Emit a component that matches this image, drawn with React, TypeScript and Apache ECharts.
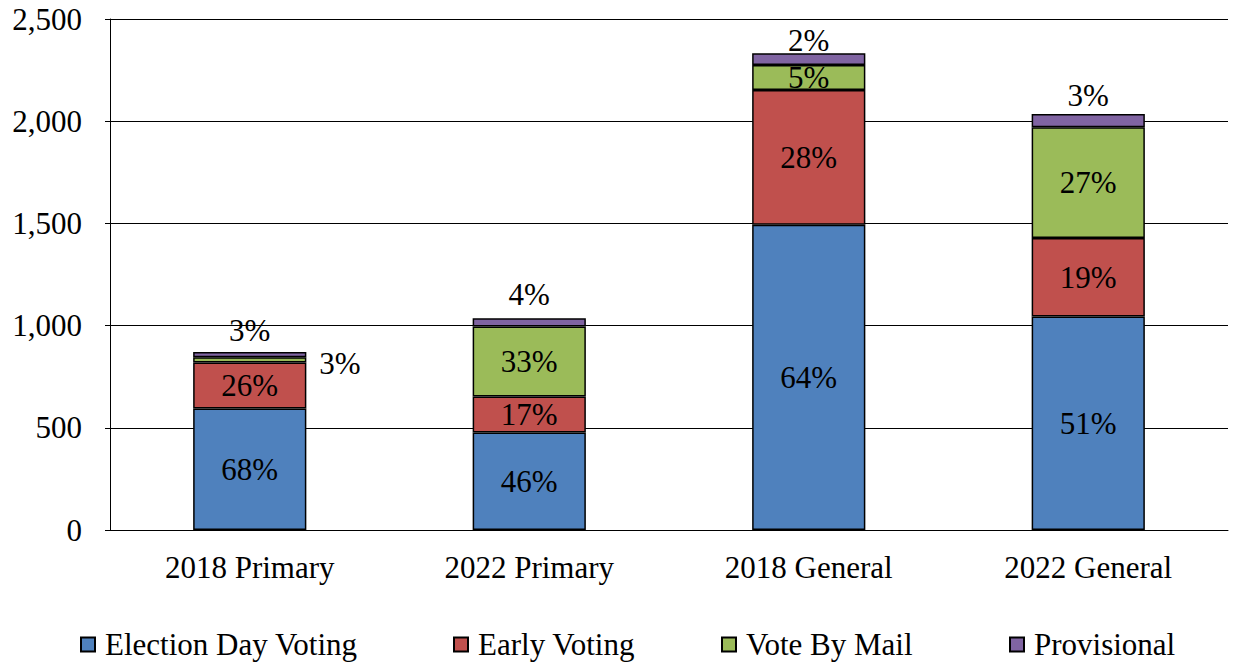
import React, { useEffect, useRef } from "react";
import * as echarts from "echarts";

const categories = ["2018 Primary", "2022 Primary", "2018 General", "2022 General"];
const seriesNames = ["Election Day Voting", "Early Voting", "Vote By Mail", "Provisional"];
const electionDay = [595, 477, 1493, 1045];
const earlyVoting = [225, 176, 660, 383];
const voteByMail = [25, 342, 122, 543];
const provisional = [26, 41, 58, 64];
const electionDayPct = ["68%", "46%", "64%", "51%"];
const earlyVotingPct = ["26%", "17%", "28%", "19%"];
const voteByMailPct = ["3%", "33%", "5%", "27%"];
const provisionalPct = ["3%", "4%", "2%", "3%"];
const yTicks = [0, 500, 1000, 1500, 2000, 2500];

const colors = ["#4F81BD", "#C0504D", "#9BBB59", "#8064A2"];
const FONT = "'Liberation Serif', 'Times New Roman', serif";
const FS = 31;

export default function App() {
  const ref = useRef<HTMLDivElement>(null);
  useEffect(() => {
    if (!ref.current) return;
    const chart = echarts.init(ref.current, undefined, { renderer: "svg" });
    const baseLabel = {
      show: true,
      position: "inside",
      color: "#000",
      fontSize: FS,
      fontFamily: FONT,
    };
    const mk = (vals: number[], pcts: string[], extra: (i: number) => any) =>
      vals.map((v, i) => ({ value: v, label: { ...baseLabel, formatter: pcts[i], ...extra(i) } }));

    const provDist = [6, 8, -3, 3];
    const option: any = {
      animation: false,
      textStyle: { fontFamily: FONT },
      grid: { left: 110, right: 5, top: 19, bottom: 132, containLabel: false },
      legend: seriesNames.map((n, i) => ({
        data: [n],
        left: [80, 453, 721, 1009][i],
        top: 629,
        itemWidth: 14,
        itemHeight: 14,
        itemGap: 0,
        icon: "rect",
        textStyle: { fontSize: FS, fontFamily: FONT, color: "#000", padding: [0, 0, 0, 5] },
        padding: 0,
      })),
      xAxis: {
        type: "category",
        data: categories,
        axisLine: { show: true, lineStyle: { color: "#000", width: 1 } },
        axisTick: { show: false },
        axisLabel: { color: "#000", fontSize: FS, fontFamily: FONT, margin: 22 },
      },
      yAxis: {
        type: "value",
        min: 0,
        max: 2500,
        interval: 500,
        axisLine: { show: true, lineStyle: { color: "#000", width: 1 } },
        axisTick: { show: true, inside: false, length: 5, lineStyle: { color: "#000" } },
        splitLine: { show: true, lineStyle: { color: "#000", width: 1 } },
        axisLabel: {
          color: "#000",
          fontSize: FS,
          fontFamily: FONT,
          margin: 28,
          formatter: (v: number) => (yTicks.includes(v) ? v.toLocaleString("en-US") : ""),
        },
      },
      series: [
        { name: seriesNames[0], data: mk(electionDay, electionDayPct, () => ({})) },
        { name: seriesNames[1], data: mk(earlyVoting, earlyVotingPct, () => ({})) },
        {
          name: seriesNames[2],
          data: mk(voteByMail, voteByMailPct, (i) =>
            i === 0 ? { position: "right", distance: 13, offset: [0, 4] } : {}
          ),
        },
        {
          name: seriesNames[3],
          data: mk(provisional, provisionalPct, (i) => ({ position: "top", distance: provDist[i] })),
        },
      ].map((s, i) => ({
        ...s,
        type: "bar",
        stack: "total",
        barWidth: "40.5%",
        itemStyle: { color: colors[i], borderColor: "#000", borderWidth: 1.5 },
      })),
    };
    chart.setOption(option);
    return () => chart.dispose();
  }, []);
  return <div ref={ref} style={{ width: 1233, height: 662, position: "absolute", left: 0, top: 0 }} />;
}
